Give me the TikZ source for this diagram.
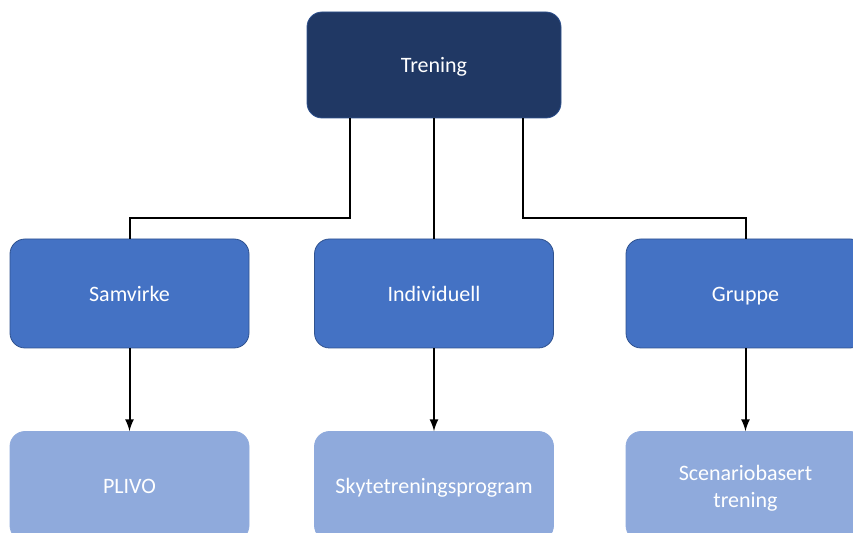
\documentclass[tikz,border=0pt]{standalone}
\usepackage{fontspec}
\setmainfont{Carlito}
\usepackage{tikz}
\usetikzlibrary{arrows}

\definecolor{navy}{RGB}{32,56,100}
\definecolor{midblue}{RGB}{68,114,196}
\definecolor{lightblue}{RGB}{143,170,220}
\definecolor{edgeblue}{RGB}{47,82,143}

\tikzset{
  box/.style={rounded corners=7.5pt, text=white, minimum width=119.5pt,
    minimum height=54.5pt, align=center, text height=8pt, text depth=0pt,
    font=\fontsize{11}{13.5}\selectfont},
  topbox/.style={box, fill=navy, draw=edgeblue, minimum width=127pt, minimum height=53pt},
  midbox/.style={box, fill=midblue, draw=edgeblue, line width=0.4pt},
  lowbox/.style={box, fill=lightblue, draw=lightblue},
  conn/.style={line width=1pt},
  arr/.style={line width=1pt, -latex}
}

\begin{document}
\begin{tikzpicture}[x=0.5pt,y=-0.5pt]
    \useasboundingbox (0,0) rectangle (853,533);
    \clip (0,0) rectangle (853,533);
    \coordinate (bar) at (0,218);
    \node[topbox] (trening) at (434,65) {Trening};
    \node[midbox] (samvirke) at (129.5,293.5) {Samvirke};
    \node[midbox] (individuell) at (434,293.5) {Individuell};
    \node[midbox] (gruppe) at (745.5,293.5) {Gruppe};
    \node[lowbox] (plivo) at (129.5,486) {PLIVO};
    \node[lowbox] (skyte) at (434,486) {Skytetreningsprogram};
    \node[lowbox, text height=21.5pt] (scenario) at (745.5,486) {Scenariobasert\\trening};
    \draw[conn] ([xshift=-42pt]trening.south) |- (bar -| samvirke.north) -- (samvirke.north);
    \draw[conn] (trening.south) -- (individuell.north);
    \draw[conn] ([xshift=44.5pt]trening.south) |- (bar -| gruppe.north) -- (gruppe.north);
    \draw[arr] (samvirke) -- (plivo);
    \draw[arr] (individuell) -- (skyte);
    \draw[arr] (gruppe) -- (scenario);
\end{tikzpicture}
\end{document}
